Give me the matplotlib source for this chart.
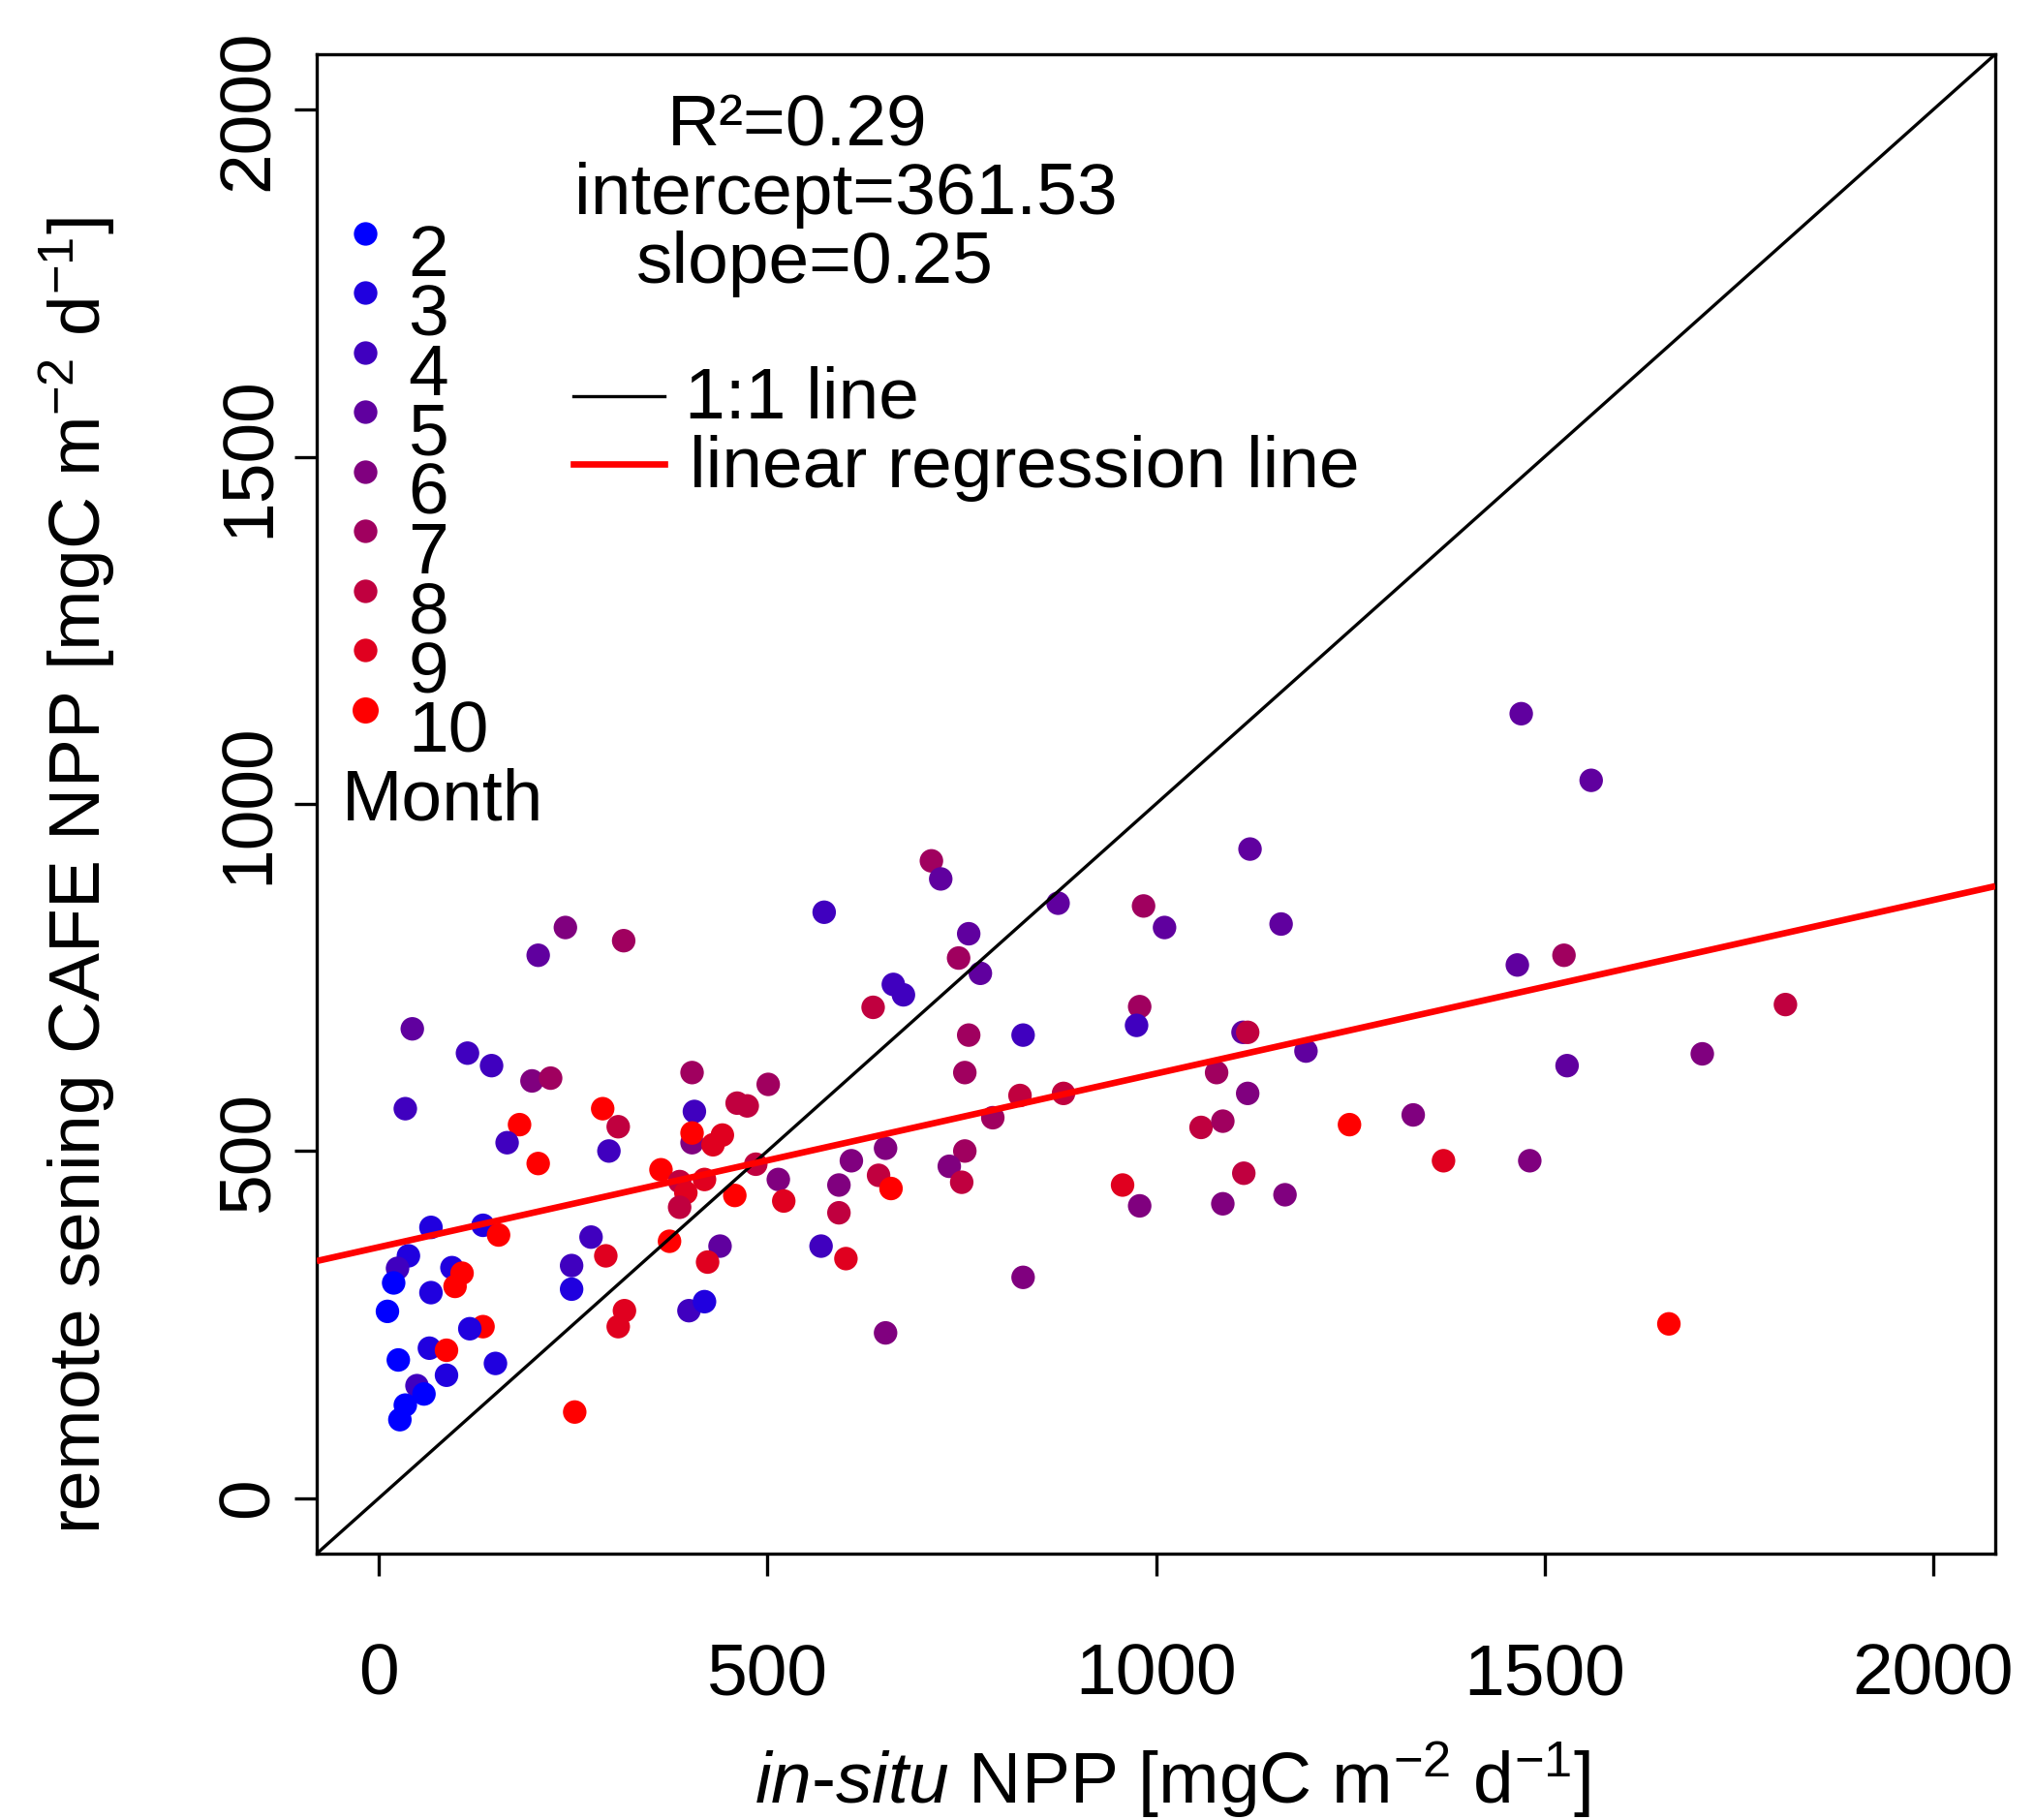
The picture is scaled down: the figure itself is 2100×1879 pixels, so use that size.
import numpy as np
import matplotlib
matplotlib.use("Agg")
import matplotlib.pyplot as plt
from matplotlib.colors import LinearSegmentedColormap

plt.rcParams['font.family'] = ['Liberation Sans', 'DejaVu Sans']
plt.rcParams['mathtext.fontset'] = 'custom'
plt.rcParams['mathtext.rm'] = 'Liberation Sans'
plt.rcParams['mathtext.it'] = 'Liberation Sans:italic'

# in-situ NPP, CAFE NPP, month
insitu = [240, 205, 315, 43, 114, 145, 197, 221, 34, 403, 501, 288, 181, 308, 165, 296, 406,
          403, 403, 461, 474, 442, 430, 205, 363, 387, 395, 387, 419, 485, 514, 521, 458,
          67, 134, 154, 38, 24, 19, 11, 67, 94, 107, 98, 273, 248, 248, 292, 374, 439, 423,
          316, 308, 399, 419,
          134, 117, 25, 65, 87, 150, 87, 49, 58, 34, 27, 252,
          711, 723, 573, 874, 984, 1011, 1161, 1121, 759, 746, 774, 662, 675, 636, 759, 829,
          979, 975, 1112, 1118, 1193, 754, 825, 881, 790, 1078, 1118, 1058, 1086, 652, 608,
          754, 734, 592, 643, 659, 750, 592, 569, 601, 957, 979, 1113, 1086, 1166, 829, 652,
          1470, 1560, 1465, 1525, 1810, 1703, 1529, 1249, 1331, 1370, 1481, 1660]
cafe = [822, 782, 803, 676, 641, 623, 601, 605, 561, 613, 596, 561, 538, 535, 512, 500, 557,
        512, 526, 569, 565, 523, 509, 482, 473, 456, 440, 419, 459, 481, 459, 428, 436,
        390, 393, 379, 349, 331, 310, 269, 296, 332, 324, 305, 376, 335, 301, 349, 370, 363, 340,
        270, 247, 270, 283,
        247, 244, 199, 216, 213, 194, 177, 162, 150, 134, 113, 124,
        918, 892, 844, 857, 853, 822, 827, 935, 813, 778, 756, 740, 725, 707, 667, 667,
        708, 681, 671, 671, 644, 613, 580, 583, 548, 613, 583, 534, 543, 504, 486,
        500, 478, 451, 465, 446, 455, 411, 363, 345, 451, 421, 468, 424, 437, 318, 238,
        1130, 1034, 768, 782, 711, 640, 623, 538, 552, 486, 486, 251]
month = [6, 5, 7, 5, 4, 4, 6, 7, 4, 7, 7, 10, 10, 8, 4, 4, 4,
         6, 10, 8, 8, 9, 9, 10, 10, 8, 9, 8, 9, 8, 6, 9, 10,
         3, 3, 10, 3, 4, 2, 2, 3, 3, 10, 10, 4, 4, 3, 9, 10, 5, 9,
         9, 9, 4, 3,
         10, 3, 2, 3, 10, 3, 3, 4, 2, 2, 2, 10,
         7, 5, 4, 5, 7, 5, 5, 5, 5, 7, 5, 4, 4, 8, 7, 4,
         7, 4, 5, 8, 5, 7, 8, 8, 7, 7, 6, 8, 7, 6, 6,
         7, 6, 6, 8, 10, 8, 8, 4, 9, 9, 6, 8, 6, 6, 6, 6,
         5, 5, 5, 7, 8, 6, 5, 10, 6, 9, 6, 10]

months = [2, 3, 4, 5, 6, 7, 8, 9, 10]
r2 = 0.29
intercept = 361.53
slope = 0.25

cmap = LinearSegmentedColormap.from_list('bluered', ['blue', 'red'])
def mcol(m):
    return cmap((m - 2) / 8)

fig = plt.figure(figsize=(7, 1879 / 300), dpi=300)
ax = fig.add_axes([327 / 2100, 1 - 1604 / 1879, 1733 / 2100, 1548 / 1879])

ax.scatter(insitu, cafe, c=[mcol(m) for m in month], s=34, linewidths=0, zorder=2)

xx = np.array([-80, 2080])
ax.plot(xx, xx, color='black', lw=0.8, zorder=3)
ax.plot(xx, intercept + slope * xx, color='red', lw=1.6, zorder=3,
        solid_capstyle='butt')

ax.set_xlim(-80, 2080)
ax.set_ylim(-80, 2080)
ax.set_xticks([0, 500, 1000, 1500, 2000])
ax.set_yticks([0, 500, 1000, 1500, 2000])
for s in ax.spines.values():
    s.set_linewidth(0.8)
ax.tick_params(axis='both', length=5.5, width=0.8, labelsize=18)
ax.tick_params(axis='x', pad=16.5)
ax.tick_params(axis='y', pad=3, labelrotation=90)
for lab in ax.get_yticklabels():
    lab.set_va('center')

# axis labels
ax.text(0.51, -0.151, r'$\mathit{in}$-$\mathit{situ}$ NPP [mgC m$^{-2}$ d$^{-1}$]',
        transform=ax.transAxes, ha='center', va='center', fontsize=18)
ax.text(-0.1425, 0.452, r'remote sening CAFE NPP [mgC m$^{-2}$ d$^{-1}$]',
        transform=ax.transAxes, ha='center', va='center', rotation=90, fontsize=18)

# regression stats
ax.text(0.2865, 0.952, f'R\u00b2={r2}', transform=ax.transAxes,
        ha='center', va='center', fontsize=18)
ax.text(0.315, 0.906, f'intercept={intercept}', transform=ax.transAxes,
        ha='center', va='center', fontsize=18)
ax.text(0.297, 0.860, f'slope={slope}', transform=ax.transAxes,
        ha='center', va='center', fontsize=18)

# line legend
ax.plot([0.153, 0.207], [0.772, 0.772], color='black', lw=0.8, transform=ax.transAxes)
ax.text(0.219, 0.770, '1:1 line', transform=ax.transAxes, ha='left', va='center', fontsize=18)
ax.plot([0.153, 0.207], [0.727, 0.727], color='red', lw=1.6, transform=ax.transAxes)
ax.text(0.222, 0.724, 'linear regression line', transform=ax.transAxes,
        ha='left', va='center', fontsize=18)

# month legend
for i, m in enumerate(months):
    yy = 0.8805 - i * 0.0397
    ax.scatter([0.0287], [yy], s=34 if m < 10 else 42, color=mcol(m), linewidths=0,
               transform=ax.transAxes, clip_on=False)
    ax.text(0.0546, yy - 0.0158, str(m), transform=ax.transAxes,
            ha='left', va='center', fontsize=18)
ax.text(0.0152, 0.502, 'Month', transform=ax.transAxes, ha='left', va='center', fontsize=18)

fig.savefig('out.png', dpi=300)
